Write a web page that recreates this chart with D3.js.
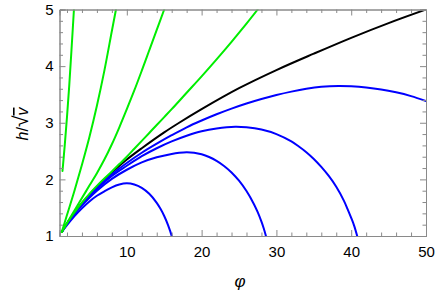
<!DOCTYPE html>
<html><head><meta charset="utf-8">
<script src="https://cdn.jsdelivr.net/npm/d3@7"></script>
<style>body{margin:0;background:#fff}svg{display:block}text{font-family:"Liberation Sans",Arial,sans-serif}</style>
</head><body><div id="chart"></div>
<script>
const xTicks = [10, 20, 30, 40, 50];
const yTicks = [1, 2, 3, 4, 5];
const blackPhi = [1.3, 2, 3, 4, 5, 6, 8, 10, 12, 15, 17, 20, 25, 30, 35, 40, 45, 50];
const blackH   = [1.07, 1.22, 1.41, 1.58, 1.73, 1.87, 2.12, 2.35, 2.55, 2.83, 3.0, 3.24, 3.61, 3.93, 4.22, 4.50, 4.76, 5.0];
const green1Phi = [1.4, 1.7, 2.0, 2.3, 2.6, 2.93];
const green1H   = [2.15, 2.6, 3.1, 3.65, 4.28, 5.0];
const green2Phi = [1.3, 2, 3, 4, 5, 6, 7, 8, 8.55];
const green2H   = [1.07, 1.37, 1.80, 2.26, 2.75, 3.30, 3.92, 4.62, 5.0];
const green3Phi = [1.3, 2, 3, 4, 5, 6, 7, 8, 9, 10, 11, 12, 13, 14, 15];
const green3H   = [1.07, 1.23, 1.45, 1.67, 1.89, 2.11, 2.35, 2.62, 2.92, 3.24, 3.57, 3.92, 4.28, 4.64, 5.0];
const green4Phi = [1.3, 2, 3, 4, 5, 6, 7, 8, 9, 10, 11, 12, 13, 14, 15, 16, 18, 20, 22, 24, 26, 27.5];
const green4H   = [1.07, 1.225, 1.415, 1.59, 1.745, 1.885, 2.015, 2.14, 2.27, 2.40, 2.54, 2.68, 2.82, 2.96, 3.10, 3.24, 3.53, 3.82, 4.12, 4.43, 4.75, 5.0];
const blue1Phi = [1.3, 2, 3, 4, 5, 6, 7, 8, 9, 10, 11, 12, 13, 14, 14.5, 15, 15.5, 15.8, 16];
const blue1H   = [1.07, 1.19, 1.35, 1.49, 1.61, 1.71, 1.79, 1.86, 1.91, 1.93, 1.91, 1.85, 1.745, 1.586, 1.481, 1.354, 1.198, 1.085, 1.0];
const blue2Phi = [1.3, 2, 3, 4, 6, 8, 10, 12, 14, 16, 17, 18, 19, 20, 21, 22, 23, 24, 25, 26, 27, 27.5, 28, 28.3, 28.6];
const blue2H   = [1.07, 1.21, 1.39, 1.54, 1.80, 2.01, 2.17, 2.30, 2.39, 2.45, 2.47, 2.48, 2.471, 2.443, 2.395, 2.327, 2.237, 2.122, 1.976, 1.794, 1.562, 1.42, 1.253, 1.136, 1.0];
const blue3Phi = [1.3, 2, 3, 4, 6, 8, 10, 12, 14, 16, 18, 20, 22, 24.5, 26, 28, 30, 32, 33, 34, 35, 36, 37, 38, 39, 39.5, 40, 40.4, 40.8];
const blue3H   = [1.07, 1.22, 1.40, 1.56, 1.83, 2.06, 2.24, 2.41, 2.55, 2.67, 2.77, 2.85, 2.90, 2.93, 2.92, 2.88, 2.80, 2.67, 2.58, 2.48, 2.36, 2.22, 2.06, 1.87, 1.63, 1.48, 1.32, 1.18, 1.0];
const blue4Phi = [1.3, 2, 3, 4, 6, 8, 10, 12, 14, 16, 18, 20, 22, 24, 26, 28, 30, 32, 34, 36, 38.3, 40, 42, 44, 46, 48, 50];
const blue4H   = [1.07, 1.22, 1.41, 1.575, 1.85, 2.09, 2.29, 2.47, 2.63, 2.78, 2.92, 3.04, 3.15, 3.25, 3.34, 3.42, 3.49, 3.55, 3.60, 3.635, 3.65, 3.644, 3.624, 3.589, 3.537, 3.47, 3.385];

const W = 436, H = 294;
const x = d3.scaleLinear().domain([1, 50]).range([59.5, 426]);
const y = d3.scaleLinear().domain([1, 5]).range([236, 9.5]);
const svg = d3.select("#chart").append("svg").attr("width", W).attr("height", H);

svg.append("defs").append("clipPath").attr("id", "clip")
  .append("rect").attr("x", x(1)).attr("y", y(5)).attr("width", x(50) - x(1)).attr("height", y(1) - y(5));

const zip = (a, b) => a.map((v, i) => [v, b[i]]);
const line = d3.line().x(d => x(d[0])).y(d => y(d[1])).curve(d3.curveCatmullRom.alpha(0.5));
const g = svg.append("g").attr("clip-path", "url(#clip)");
const series = [
  [blackPhi, blackH, "#000"],
  [blue1Phi, blue1H, "#0000ff"], [blue2Phi, blue2H, "#0000ff"],
  [blue3Phi, blue3H, "#0000ff"], [blue4Phi, blue4H, "#0000ff"],
  [green1Phi, green1H, "#00ee00"], [green2Phi, green2H, "#00ee00"],
  [green3Phi, green3H, "#00ee00"], [green4Phi, green4H, "#00ee00"]
];
series.forEach(([px, py, c]) => {
  g.append("path").attr("d", line(zip(px, py))).attr("fill", "none")
    .attr("stroke", c).attr("stroke-width", 2).attr("stroke-linecap", "round");
});

// axes: ticks inward on all sides
const frameColor = "#8a8a8a";
const xMinor = d3.range(2, 50, 2).filter(v => v % 10 !== 0);
const yMinor = d3.range(1.2, 5, 0.2).filter(v => Math.abs(v - Math.round(v)) > 1e-6);
const axB = d3.axisBottom(x).tickValues(xTicks).tickSize(-6).tickPadding(10).tickFormat(d3.format("d"));
const axBm = d3.axisBottom(x).tickValues(xMinor).tickSize(-3.5).tickFormat("");
const axT = d3.axisTop(x).tickValues(xTicks).tickSize(-6).tickFormat("");
const axTm = d3.axisTop(x).tickValues(xMinor).tickSize(-3.5).tickFormat("");
const axL = d3.axisLeft(y).tickValues(yTicks).tickSize(-6).tickPadding(6).tickFormat(d3.format("d"));
const axLm = d3.axisLeft(y).tickValues(yMinor).tickSize(-3.5).tickFormat("");
const axR = d3.axisRight(y).tickValues(yTicks).tickSize(-6).tickFormat("");
const axRm = d3.axisRight(y).tickValues(yMinor).tickSize(-3.5).tickFormat("");
[[axB, `translate(0,${y(1)})`], [axBm, `translate(0,${y(1)})`],
 [axT, `translate(0,${y(5)})`], [axTm, `translate(0,${y(5)})`],
 [axL, `translate(${x(1)},0)`], [axLm, `translate(${x(1)},0)`],
 [axR, `translate(${x(50)},0)`], [axRm, `translate(${x(50)},0)`]].forEach(([ax, tr]) => {
  const a = svg.append("g").attr("transform", tr).call(ax);
  a.selectAll("path.domain").attr("stroke", frameColor);
  a.selectAll(".tick line").attr("stroke", frameColor);
  a.selectAll(".tick text").attr("fill", "#000").attr("font-size", 15);
});

svg.append("text").attr("x", 240).attr("y", 287).attr("text-anchor", "middle")
  .attr("font-size", 17).attr("font-style", "italic").text("φ");

const yl = svg.append("text").attr("transform", "translate(28,124) rotate(-90)")
  .attr("text-anchor", "middle").attr("font-size", 16);
yl.append("tspan").attr("font-style", "italic").text("h");
yl.append("tspan").text("/");
yl.append("tspan").attr("font-size", 21).text("√");
yl.append("tspan").attr("font-style", "italic").attr("text-decoration", "overline").text("v");
</script></body></html>
